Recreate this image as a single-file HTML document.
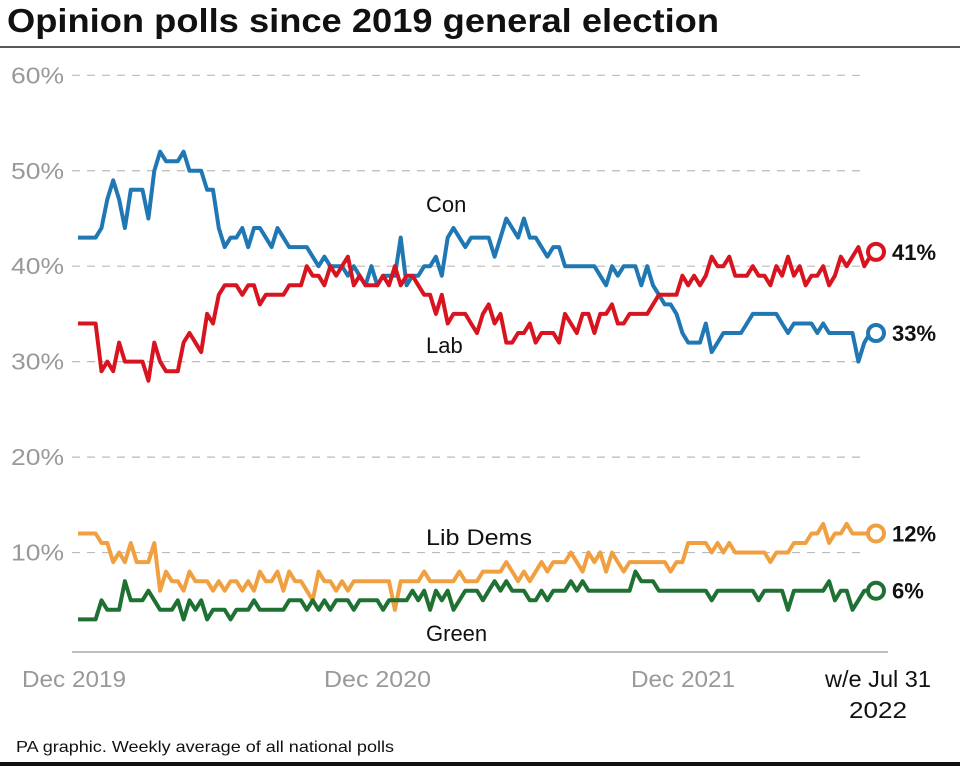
<!DOCTYPE html>
<html><head><meta charset="utf-8"><style>
body{margin:0;background:#fff;width:960px;height:766px;overflow:hidden;font-family:"Liberation Sans",sans-serif}
</style></head><body>
<svg id="chart" width="960" height="766" viewBox="0 0 960 766" xmlns="http://www.w3.org/2000/svg">
<text x="7" y="32" font-size="33" font-weight="bold" fill="#111" textLength="712" lengthAdjust="spacingAndGlyphs">Opinion polls since 2019 general election</text>
<line x1="0" y1="47" x2="960" y2="47" stroke="#222" stroke-width="1.5"/>
<line x1="72" y1="652" x2="888" y2="652" stroke="#aaa" stroke-width="1.5"/>
<rect x="0" y="762" width="960" height="4" fill="#111"/>
<g id="grid"></g><g id="series"></g>
<text x="426" y="212" font-size="22" fill="#111">Con</text>
<text x="426" y="353" font-size="22" fill="#111">Lab</text>
<text x="426" y="545" font-size="22" fill="#111" textLength="106" lengthAdjust="spacingAndGlyphs">Lib Dems</text>
<text x="426" y="641" font-size="22" fill="#111">Green</text>
<text x="22" y="687" font-size="23" fill="#999" textLength="104" lengthAdjust="spacingAndGlyphs">Dec 2019</text>
<text x="324" y="687" font-size="23" fill="#999" textLength="107" lengthAdjust="spacingAndGlyphs">Dec 2020</text>
<text x="631" y="687" font-size="23" fill="#999" textLength="104" lengthAdjust="spacingAndGlyphs">Dec 2021</text>
<text x="825" y="687" font-size="23" fill="#111" textLength="106" lengthAdjust="spacingAndGlyphs">w/e Jul 31</text>
<text x="849" y="718" font-size="23" fill="#111" textLength="58" lengthAdjust="spacingAndGlyphs">2022</text>
<text x="16" y="752" font-size="16" fill="#111" textLength="378" lengthAdjust="spacingAndGlyphs">PA graphic. Weekly average of all national polls</text>
</svg>
<script>
const yTicks=[60,50,40,30,20,10];
const con=[43,43,43,43,44,47,49,47,44,48,48,48,45,50,52,51,51,51,52,50,50,50,48,48,44,42,43,43,44,42,44,44,43,42,44,43,42,42,42,42,41,40,41,40,40,40,39,40,39,38,40,38,39,39,39,43,38,39,39,40,40,41,39,43,44,43,42,43,43,43,43,41,43,45,44,43,45,43,43,42,41,42,42,40,40,40,40,40,40,39,38,40,39,40,40,40,38,40,38,37,36,36,35,33,32,32,32,34,31,32,33,33,33,33,34,35,35,35,35,35,34,33,34,34,34,34,33,34,33,33,33,33,33,30,32,33,33];
const lab=[34,34,34,34,29,30,29,32,30,30,30,30,28,32,30,29,29,29,32,33,32,31,35,34,37,38,38,38,37,38,38,36,37,37,37,37,38,38,38,40,39,39,38,40,39,40,41,38,39,38,38,38,39,38,40,38,39,39,38,37,37,35,37,34,35,35,35,34,33,35,36,34,35,32,32,33,33,34,32,33,33,33,32,35,34,33,35,35,33,35,35,36,34,34,35,35,35,35,36,37,37,37,37,39,38,39,38,39,41,40,40,41,39,39,39,40,39,39,38,40,39,41,39,40,38,39,39,40,38,39,41,40,41,42,40,41,41.5];
const libDems=[12,12,12,12,11,11,9,10,9,11,9,9,9,11,6,8,7,7,6,8,7,7,7,6,7,6,7,7,6,7,6,8,7,7,8,6,8,7,7,6,5,8,7,7,6,7,6,7,7,7,7,7,7,7,4,7,7,7,7,8,7,7,7,7,7,8,7,7,7,8,8,8,8,9,8,7,8,7,8,9,8,9,9,9,10,9,8,10,9,10,8,10,9,8,9,9,9,9,9,9,9,8,9,9,11,11,11,11,10,11,10,11,10,10,10,10,10,10,9,10,10,10,11,11,11,12,12,13,11,12,12,13,12,12,12,12,12];
const green=[3,3,3,3,5,4,4,4,7,5,5,5,6,5,4,4,4,5,3,5,4,5,3,4,4,4,3,4,4,4,5,4,4,4,4,4,5,5,5,4,5,4,5,4,5,5,5,4,5,5,5,5,4,5,5,5,5,6,5,6,4,6,5,6,4,5,6,6,6,5,6,7,6,7,6,6,6,5,5,6,5,6,6,6,7,6,7,6,6,6,6,6,6,6,6,8,7,7,7,6,6,6,6,6,6,6,6,6,5,6,6,6,6,6,6,6,5,6,6,6,6,4,6,6,6,6,6,6,7,5,6,6,4,5,6,6,6];
const seriesNames=['con','lab','lib-dems','green'];
const endLabels=['33%','41%','12%','6%'];
const NS='http://www.w3.org/2000/svg';
const y=v=>648-v*9.545;
const x=(i,n)=>78+i*(876-78)/(n-1);
const grid=document.getElementById('grid');
yTicks.forEach(t=>{
 const l=document.createElementNS(NS,'line');
 
 
 l.setAttribute('x1',72);l.setAttribute('x2',860);l.setAttribute('y1',y(t));l.setAttribute('y2',y(t));
 l.setAttribute('stroke','#bbb');l.setAttribute('stroke-dasharray','8 7');l.setAttribute('stroke-width','1.2');
 grid.appendChild(l);
 const tx=document.createElementNS(NS,'text');
 
 
 tx.setAttribute('x',11);tx.setAttribute('y',y(t)+8);tx.setAttribute('font-size','23');tx.setAttribute('fill','#999');
 tx.setAttribute('textLength','53');tx.setAttribute('lengthAdjust','spacingAndGlyphs');
 tx.textContent=t+'%';grid.appendChild(tx);
});
const data=[con,lab,libDems,green];
const colors=['#1f77b4','#d7141f','#f0a040','#1e7033'];
const g=document.getElementById('series');
data.forEach((d,k)=>{
 const p=document.createElementNS(NS,'polyline');
 
 
 p.setAttribute('points',d.map((v,i)=>x(i,d.length).toFixed(1)+','+y(v).toFixed(1)).join(' '));
 p.setAttribute('fill','none');p.setAttribute('stroke',colors[k]);p.setAttribute('stroke-width','4');p.setAttribute('stroke-linejoin','round');
 g.appendChild(p);
 const last=d[d.length-1];
 const c=document.createElementNS(NS,'circle');
 
 
 c.setAttribute('cx',876);c.setAttribute('cy',y(last));c.setAttribute('r','8');
 c.setAttribute('fill','#fff');c.setAttribute('stroke',colors[k]);c.setAttribute('stroke-width','4');
 g.appendChild(c);
 const t=document.createElementNS(NS,'text');
 
 
 t.setAttribute('x',892);t.setAttribute('y',y(last)+8);t.setAttribute('font-size','22');t.setAttribute('font-weight','bold');t.setAttribute('fill','#111');
 t.textContent=endLabels[k];g.appendChild(t);
});
</script>
</body></html>
